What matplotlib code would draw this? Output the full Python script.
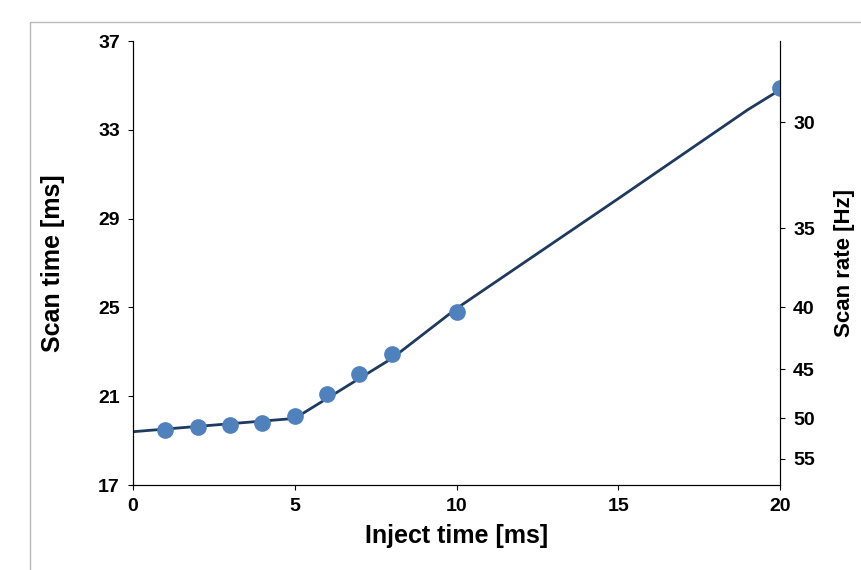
import matplotlib
matplotlib.use("Agg")
import matplotlib.pyplot as plt

plt.rcParams['font.family'] = ['Liberation Sans', 'DejaVu Sans']
plt.rcParams['font.weight'] = 'bold'

inject_pts = [1, 2, 3, 4, 5, 6, 7, 8, 10, 20]
scan_pts = [19.5, 19.6, 19.7, 19.8, 20.1, 21.1, 22.0, 22.9, 24.8, 34.9]
inject_line = [0, 5, 6, 8, 10, 15, 19, 20]
scan_line = [19.4, 20.0, 20.9, 22.7, 24.95, 29.9, 33.9, 34.8]
rate_ticks = [30, 35, 40, 45, 50, 55]

fig = plt.figure(figsize=(8.61, 5.70), dpi=100)
ax = fig.add_axes([133/861, 1-485/570, (780-133)/861, (485-41)/570])
ax.plot(inject_line, scan_line, color='#1f3a5f', lw=2)
ax.plot(inject_pts, scan_pts, 'o', color='#4f81bd', ms=11, zorder=3)
ax.set_xlim(0, 20)
ax.set_ylim(17, 37)
ax.set_xticks([0, 5, 10, 15, 20])
ax.set_yticks([17, 21, 25, 29, 33, 37])
ax.spines['top'].set_visible(False)
ax.tick_params(labelsize=14, pad=6)
ax.set_xlabel('Inject time [ms]', fontsize=18, fontweight='bold', labelpad=6)
ax.set_ylabel('Scan time [ms]', fontsize=18, fontweight='bold', labelpad=24)

ax2 = ax.twinx()
ax2.set_ylim(17, 37)
ax2.set_yticks([1000 / f for f in rate_ticks])
ax2.set_yticklabels([str(f) for f in rate_ticks])
ax2.spines['top'].set_visible(False)
ax2.tick_params(labelsize=14, pad=6)
ax2.set_ylabel('Scan rate [Hz]', fontsize=16, fontweight='bold', labelpad=14)

fig.patches.append(plt.Rectangle((30/861, 1 - 22/570), 2, -2, transform=fig.transFigure,
                                 fill=False, ec='#bbbbbb', lw=1))
fig.savefig('out.png', dpi=100)
